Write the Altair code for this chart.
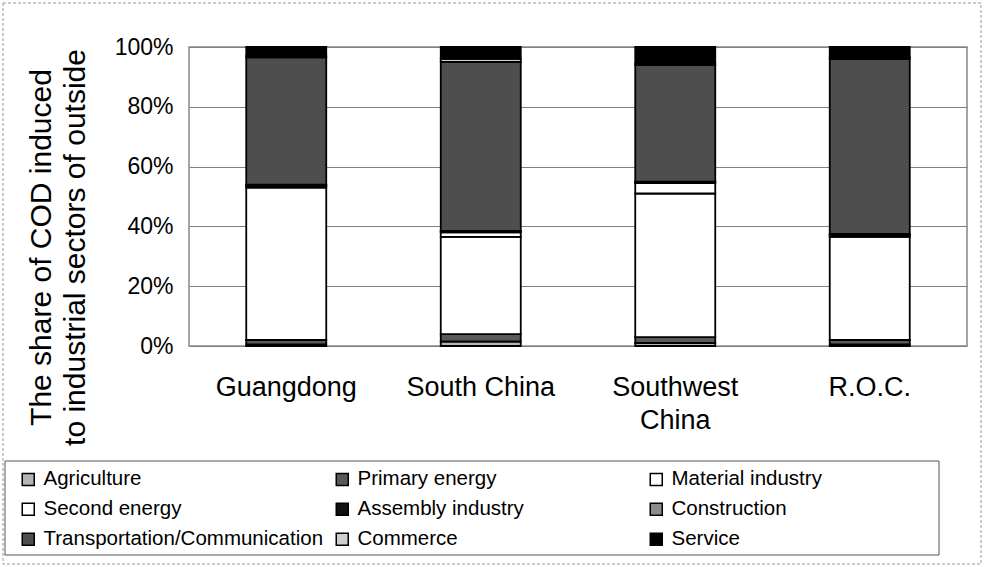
import altair as alt
import pandas as pd

regions = ["Guangdong", "South China", "Southwest China", "R.O.C."]
sectors = ["Agriculture", "Primary energy", "Material industry",
           "Second energy", "Assembly industry", "Construction",
           "Transportation/Communication", "Commerce", "Service"]
colors = ["#b4b4b4", "#5a5a5a", "#ffffff", "#ffffff", "#111111",
          "#8c8c8c", "#4e4e4e", "#cfcfcf", "#000000"]

agriculture = [0.5, 1.5, 1.0, 0.5]
primary_energy = [1.5, 2.5, 2.0, 1.5]
material_industry = [51.0, 32.5, 48.0, 34.5]
second_energy = [0.5, 1.5, 3.5, 0.5]
assembly_industry = [0.2, 0.3, 0.3, 0.2]
construction = [0.3, 0.2, 0.2, 0.3]
transportation = [42.5, 56.5, 39.0, 58.5]
commerce = [0.5, 1.0, 0.5, 0.5]
service = [3.0, 4.0, 5.5, 3.5]

series = [agriculture, primary_energy, material_industry, second_energy,
          assembly_industry, construction, transportation, commerce, service]

rows = []
for si, (name, vals) in enumerate(zip(sectors, series)):
    for r, v in zip(regions, vals):
        rows.append({"region": r, "sector": name, "value": v, "order": si})
df = pd.DataFrame(rows)

FONT = "Liberation Sans"

bars = alt.Chart(df).mark_bar(stroke="black", strokeWidth=1.8, size=80).encode(
    x=alt.X("region:N", sort=regions, scale=alt.Scale(paddingInner=0.58, paddingOuter=0.29),
            axis=alt.Axis(title=None, labelAngle=0, labelFontSize=27, labelPadding=28,
                          ticks=False, domain=False, labelFont=FONT, labelColor="black",
                          labelLineHeight=33, labelBaseline="top",
                          labelExpr="datum.label == 'Southwest China' ? ['Southwest', 'China'] : datum.label")),
    y=alt.Y("value:Q", stack="normalize",
            scale=alt.Scale(domain=[0, 1]),
            axis=alt.Axis(format="%", values=[0, 0.2, 0.4, 0.6, 0.8, 1.0],
                          labelFontSize=23, labelFont=FONT, labelColor="black",
                          ticks=False, domain=False, labelPadding=16,
                          gridColor="#808080", gridWidth=1,
                          title=["The share of COD induced", "to industrial sectors of outside"],
                          titleFontSize=30, titleFont=FONT, titleFontWeight="normal",
                          titleColor="black", titleLineHeight=34,
                          titleX=-148, titleY=200, titleAngle=-90,
                          titleAlign="center", titleBaseline="middle")),
    color=alt.Color("sector:N", sort=sectors,
                    scale=alt.Scale(domain=sectors, range=colors),
                    legend=alt.Legend(title=None, orient="none", legendX=-178, legendY=415,
                                      columns=3, direction="horizontal", gridAlign="all",
                                      columnPadding=8, rowPadding=9,
                                      symbolType="square", symbolSize=144,
                                      symbolStrokeColor="black", symbolStrokeWidth=1.5,
                                      labelFontSize=20.5, labelFont=FONT, labelColor="black",
                                      labelLimit=400, labelOffset=5,
                                      padding=7, symbolOffset=0)),
    order=alt.Order("order:Q", sort="ascending"),
)

frame = alt.Chart(pd.DataFrame({"k": [0]})).mark_rect(
    fill=None, stroke="#999999", strokeWidth=1, strokeDash=[3, 2]
).encode(x=alt.value(-186), x2=alt.value(792), y=alt.value(-44), y2=alt.value(517))

legend_box = alt.Chart(pd.DataFrame({"k": [0]})).mark_rect(
    fill="white", stroke="#555555", strokeWidth=1
).encode(x=alt.value(-184), x2=alt.value(750), y=alt.value(414), y2=alt.value(508))

chart = alt.layer(frame, legend_box, bars).properties(
    width=778, height=299,
    autosize=alt.AutoSizeParams(type="none"),
    padding={"left": 189, "top": 47, "right": 18, "bottom": 221},
    background="white",
).configure_view(stroke="#888888", strokeWidth=1.5)

chart.save("out.html", embed_options={"renderer": "svg", "actions": False})
